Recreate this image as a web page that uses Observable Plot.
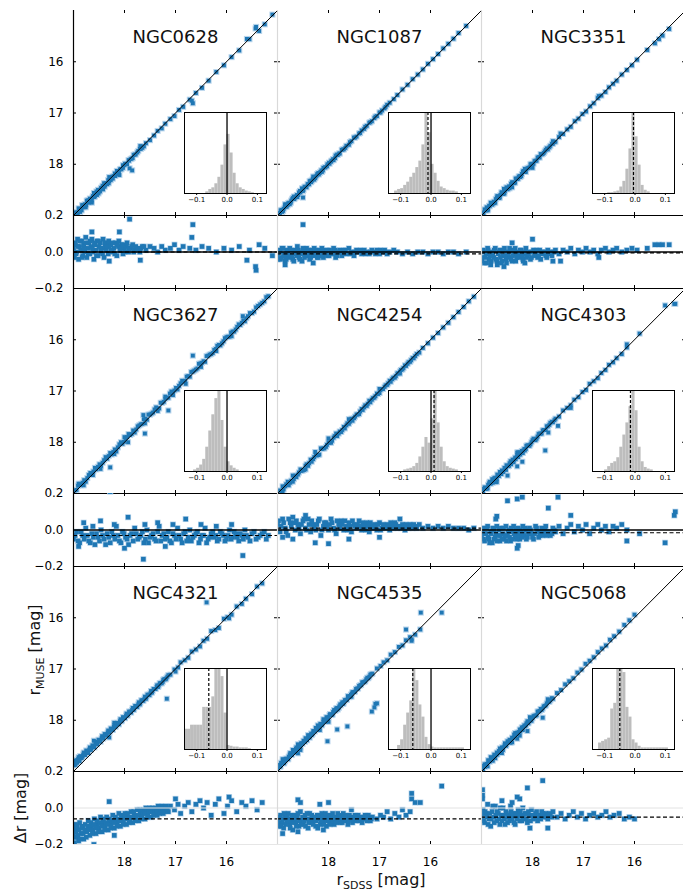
<!DOCTYPE html>
<html><head><meta charset="utf-8">
<script src="https://cdn.jsdelivr.net/npm/d3@7"></script>
<script src="https://cdn.jsdelivr.net/npm/@observablehq/plot@0.6"></script>
<style>
body{margin:0;background:#fff}
#fig{position:relative;width:683px;height:893px;overflow:hidden;font-family:"DejaVu Sans",sans-serif;background:#fff}
</style></head><body><div id="fig"></div>
<script>
// ---------------- DATA ----------------
const galaxies = ["NGC0628","NGC1087","NGC3351","NGC3627","NGC4254","NGC4303","NGC4321","NGC4535","NGC5068"];
const magTicks = [18, 17, 16];
const residTicks = [-0.2, 0, 0.2];
const insetTicks = [-0.1, 0, 0.1];
const oneToOne = [19, 15];
// [r_SDSS, Δr = r_MUSE - r_SDSS]  (sparse stars + outliers)
const NGC0628 = [[19.00,0.02],[18.98,-0.03],[18.96,0.05],[18.94,0.00],[18.92,0.07],[18.90,-0.04],[18.88,0.03],[18.86,0.01],[18.84,0.06],[18.82,-0.02],[18.80,0.04],[18.78,0.00],[18.76,0.08],[18.74,-0.03],[18.72,0.02],[18.70,0.05],[18.68,-0.01],[18.66,0.03],[18.64,0.07],[18.62,0.00],[18.60,-0.04],[18.58,0.04],[18.56,0.01],[18.54,0.06],[18.52,-0.02],[18.50,0.03],[18.48,0.05],[18.46,0.00],[18.44,0.02],[18.42,0.07],[18.40,-0.03],[18.38,0.03],[18.36,0.01],[18.34,0.05],[18.32,-0.01],[18.30,0.03],[18.27,0.04],[18.24,0.00],[18.21,0.02],[18.18,0.05],[18.15,-0.02],[18.12,0.03],[18.09,0.01],[18.06,0.04],[18.03,-0.01],[18.00,0.02],[17.96,0.03],[17.92,0.00],[17.88,0.02],[17.84,0.04],[17.80,0.01],[17.75,0.02],[17.70,0.00],[17.65,0.03],[17.58,0.01],[17.50,0.03],[17.42,0.02],[17.35,0.00],[17.27,0.03],[17.20,0.01],[17.10,0.02],[17.02,0.04],[16.93,0.01],[16.85,0.03],[16.72,0.02],[16.60,0.01],[16.48,0.03],[16.35,0.02],[16.20,0.00],[16.05,0.02],[15.90,0.01],[15.75,0.03],[15.55,0.01],[15.36,0.04],[15.25,0.02],[18.64,0.11],[18.10,0.11],[17.90,0.18],[16.66,0.15],[15.60,-0.045],[15.43,-0.08],[15.10,-0.02],[17.69,-0.045],[17.85,0.27],[16.68,0.08],[15.42,-0.10],[18.30,-0.05]];
const NGC1087 = [[19.00,-0.02],[18.97,0.01],[18.94,-0.04],[18.91,0.02],[18.88,-0.01],[18.85,-0.05],[18.82,0.01],[18.79,-0.03],[18.76,0.02],[18.73,-0.02],[18.70,-0.04],[18.67,0.01],[18.64,-0.01],[18.61,0.03],[18.58,-0.03],[18.55,0.00],[18.52,-0.05],[18.49,0.01],[18.46,-0.02],[18.43,0.02],[18.40,-0.01],[18.37,-0.04],[18.34,0.01],[18.31,-0.02],[18.28,0.02],[18.25,-0.01],[18.22,-0.03],[18.19,0.01],[18.16,-0.01],[18.13,0.02],[18.10,-0.03],[18.06,0.00],[18.02,-0.02],[17.98,0.01],[17.94,-0.01],[17.90,0.02],[17.86,-0.03],[17.82,0.00],[17.78,0.01],[17.74,-0.02],[17.70,0.01],[17.65,-0.01],[17.60,0.02],[17.55,0.00],[17.50,-0.02],[17.45,0.01],[17.40,0.00],[17.35,-0.01],[17.30,0.01],[17.25,0.00],[17.20,-0.01],[17.15,0.01],[17.10,0.00],[17.05,0.01],[17.00,-0.01],[16.95,0.00],[16.90,0.01],[16.85,-0.01],[16.80,0.00],[16.72,0.01],[16.65,0.00],[16.55,-0.01],[16.45,0.00],[16.35,-0.01],[16.25,0.00],[16.15,0.00],[16.05,-0.01],[15.95,0.00],[15.85,0.00],[15.75,-0.01],[15.65,0.00],[15.55,0.00],[15.45,-0.01],[15.30,0.00],[18.50,0.15],[18.85,-0.07],[18.30,-0.06]];
const NGC3351 = [[19.00,-0.03],[18.97,0.01],[18.94,-0.06],[18.91,-0.01],[18.88,0.02],[18.85,-0.04],[18.82,-0.07],[18.79,0.00],[18.76,-0.03],[18.73,0.02],[18.70,-0.05],[18.67,-0.01],[18.64,0.01],[18.61,-0.06],[18.58,-0.02],[18.55,0.02],[18.52,-0.04],[18.49,0.00],[18.46,-0.03],[18.43,0.01],[18.40,-0.05],[18.37,-0.01],[18.34,0.02],[18.31,-0.03],[18.28,0.00],[18.25,-0.02],[18.22,0.01],[18.19,-0.04],[18.16,-0.01],[18.13,0.02],[18.10,-0.02],[18.06,0.00],[18.02,-0.03],[17.98,0.01],[17.94,-0.01],[17.90,-0.03],[17.86,0.01],[17.82,-0.01],[17.78,0.00],[17.74,-0.02],[17.70,0.01],[17.65,-0.01],[17.60,0.00],[17.55,0.01],[17.48,-0.01],[17.40,0.01],[17.32,0.00],[17.25,0.02],[17.17,-0.01],[17.10,0.01],[17.02,0.00],[16.95,0.02],[16.87,0.00],[16.80,0.01],[16.72,-0.01],[16.65,0.01],[16.57,0.02],[16.50,0.00],[16.42,0.01],[16.35,0.02],[16.25,0.00],[16.15,0.01],[16.05,0.02],[15.95,0.01],[15.75,0.02],[15.60,0.04],[15.52,0.04],[15.45,0.04],[15.32,0.04],[18.00,0.07],[18.40,0.05],[18.56,-0.08],[17.45,-0.05],[18.15,-0.06],[17.60,-0.05],[16.70,-0.03]];
const NGC3627 = [[19.00,-0.05],[18.94,-0.01],[18.88,-0.07],[18.82,-0.03],[18.76,0.01],[18.70,-0.06],[18.64,-0.02],[18.58,-0.08],[18.52,-0.04],[18.46,0.00],[18.40,-0.05],[18.34,-0.02],[18.28,-0.07],[18.22,-0.03],[18.16,0.02],[18.10,-0.06],[18.04,-0.01],[17.98,-0.04],[17.92,-0.08],[17.86,-0.02],[17.80,0.01],[17.74,-0.05],[17.68,-0.03],[17.62,-0.07],[17.56,0.00],[17.50,-0.04],[17.44,-0.02],[17.38,-0.06],[17.32,0.02],[17.26,-0.03],[17.20,-0.05],[17.14,-0.01],[17.08,-0.07],[17.02,-0.03],[16.96,0.01],[16.90,-0.05],[16.84,-0.02],[16.78,-0.06],[16.72,0.00],[16.66,-0.04],[16.60,-0.02],[16.54,-0.07],[16.48,-0.03],[16.42,0.01],[16.36,-0.05],[16.30,-0.02],[16.24,-0.04],[16.18,-0.06],[16.12,-0.01],[16.06,-0.03],[16.00,-0.05],[15.94,0.00],[15.88,-0.04],[15.82,-0.02],[15.76,-0.06],[15.70,-0.03],[15.64,0.00],[15.58,-0.04],[15.50,-0.02],[15.42,-0.05],[15.34,-0.03],[15.26,-0.01],[15.18,-0.03],[18.80,0.04],[18.47,0.05],[18.20,0.03],[17.93,0.07],[17.60,0.03],[17.35,0.04],[16.80,0.06],[16.50,0.03],[16.20,0.02],[15.90,0.03],[18.62,0.02],[17.05,0.03],[17.63,-0.16],[15.68,-0.14],[18.90,-0.09],[18.00,-0.10],[17.20,-0.09],[16.66,-0.35],[17.14,0.24],[17.60,0.23],[18.28,0.21]];
const NGC4254 = [[19.00,0.03],[18.95,-0.01],[18.90,0.06],[18.85,0.01],[18.80,-0.03],[18.75,0.04],[18.70,0.07],[18.65,0.00],[18.60,0.03],[18.55,-0.02],[18.50,0.05],[18.45,0.01],[18.40,0.06],[18.35,-0.01],[18.30,0.03],[18.25,0.00],[18.20,0.05],[18.15,-0.03],[18.10,0.02],[18.05,0.04],[18.00,0.00],[17.95,0.06],[17.90,0.01],[17.85,-0.02],[17.80,0.03],[17.75,0.05],[17.70,0.00],[17.65,0.02],[17.60,0.04],[17.55,-0.01],[17.50,0.03],[17.45,0.01],[17.40,0.05],[17.35,0.00],[17.30,0.02],[17.25,0.04],[17.20,-0.01],[17.15,0.02],[17.10,0.03],[17.05,0.00],[17.00,0.04],[16.95,0.01],[16.90,0.02],[16.85,0.03],[16.80,0.00],[16.75,0.02],[16.70,0.04],[16.65,0.01],[16.60,0.02],[16.55,0.03],[16.50,0.00],[16.45,0.02],[16.40,0.03],[16.35,0.01],[16.30,0.02],[16.22,0.03],[16.15,0.01],[16.05,0.02],[15.95,0.01],[15.85,0.02],[15.75,0.01],[15.65,0.02],[15.55,0.01],[15.45,0.01],[15.35,0.01],[15.25,0.00],[15.15,0.01],[18.26,-0.07],[18.00,-0.075],[17.00,-0.04],[18.70,-0.05],[18.90,-0.04],[17.60,-0.05],[16.60,0.06],[18.45,0.08]];
const NGC4303 = [[19.00,-0.03],[18.97,0.01],[18.94,-0.06],[18.91,-0.02],[18.88,0.02],[18.85,-0.05],[18.82,-0.01],[18.79,-0.07],[18.76,0.00],[18.73,-0.04],[18.70,0.02],[18.67,-0.03],[18.64,-0.06],[18.61,0.01],[18.58,-0.02],[18.55,-0.05],[18.52,0.02],[18.49,-0.03],[18.46,0.00],[18.43,-0.06],[18.40,-0.01],[18.37,0.02],[18.34,-0.04],[18.31,-0.02],[18.28,0.01],[18.25,-0.05],[18.22,-0.01],[18.19,0.02],[18.16,-0.03],[18.13,0.00],[18.10,-0.04],[18.06,0.01],[18.02,-0.02],[17.98,-0.05],[17.94,0.02],[17.90,-0.01],[17.86,-0.03],[17.82,0.01],[17.78,-0.02],[17.74,0.02],[17.70,-0.01],[17.65,-0.03],[17.60,0.01],[17.55,-0.01],[17.48,0.02],[17.40,-0.02],[17.32,0.01],[17.25,0.03],[17.18,-0.01],[17.10,0.02],[17.02,0.00],[16.95,0.03],[16.88,-0.02],[16.80,0.01],[16.72,0.03],[16.65,0.00],[16.57,0.02],[16.50,-0.01],[16.42,0.02],[16.35,0.01],[16.25,0.03],[16.15,0.00],[18.70,0.075],[18.72,0.06],[18.20,0.18],[17.50,0.18],[17.25,0.08],[18.30,-0.10],[18.28,-0.085],[16.15,-0.06],[15.40,-0.07],[15.20,0.10],[15.22,0.08],[15.90,-0.02],[17.69,0.12],[17.75,0.41],[18.30,0.17],[18.49,0.16]];
const NGC4321 = [[19.00,-0.14],[18.98,-0.19],[18.96,-0.09],[18.94,-0.16],[18.92,-0.12],[18.90,-0.18],[18.88,-0.08],[18.85,-0.14],[18.82,-0.11],[18.80,-0.17],[18.77,-0.09],[18.74,-0.13],[18.71,-0.07],[18.68,-0.15],[18.65,-0.10],[18.62,-0.12],[18.59,-0.06],[18.56,-0.14],[18.53,-0.09],[18.50,-0.11],[18.47,-0.05],[18.44,-0.13],[18.41,-0.08],[18.38,-0.10],[18.35,-0.05],[18.32,-0.12],[18.29,-0.07],[18.26,-0.09],[18.23,-0.04],[18.20,-0.11],[18.17,-0.06],[18.14,-0.08],[18.11,-0.03],[18.08,-0.10],[18.05,-0.05],[18.02,-0.07],[17.99,-0.03],[17.96,-0.09],[17.93,-0.05],[17.90,-0.06],[17.87,-0.02],[17.84,-0.08],[17.81,-0.04],[17.78,-0.05],[17.75,-0.01],[17.72,-0.07],[17.69,-0.03],[17.66,-0.04],[17.63,-0.01],[17.60,-0.06],[17.57,-0.02],[17.54,-0.03],[17.51,0.00],[17.48,-0.05],[17.45,-0.02],[17.42,-0.03],[17.39,0.00],[17.36,-0.04],[17.33,-0.01],[17.30,-0.02],[17.27,0.01],[17.24,-0.03],[17.21,-0.01],[17.18,0.00],[17.14,-0.02],[17.10,0.01],[17.02,-0.01],[16.95,0.02],[16.90,-0.03],[16.82,0.01],[16.75,0.03],[16.68,-0.02],[16.60,0.02],[16.52,0.04],[16.45,0.00],[16.38,0.03],[16.30,-0.04],[16.22,0.02],[16.15,0.05],[16.05,-0.03],[15.98,0.01],[15.90,0.04],[15.80,-0.02],[15.70,0.03],[15.62,0.01],[15.50,0.04],[15.40,-0.01],[15.30,0.03],[18.30,0.035],[17.00,0.05],[15.95,0.06],[18.60,-0.20],[18.20,-0.15],[16.39,-0.69],[17.17,0.41]];
const NGC4535 = [[19.00,-0.06],[18.97,-0.10],[18.94,-0.04],[18.91,-0.08],[18.88,-0.11],[18.85,-0.05],[18.82,-0.07],[18.79,-0.03],[18.76,-0.09],[18.73,-0.06],[18.70,-0.12],[18.67,-0.04],[18.64,-0.08],[18.61,-0.05],[18.58,-0.10],[18.55,-0.02],[18.52,-0.07],[18.49,-0.09],[18.46,-0.04],[18.43,-0.06],[18.40,-0.11],[18.37,-0.03],[18.34,-0.08],[18.31,-0.05],[18.28,-0.07],[18.25,-0.10],[18.22,-0.04],[18.19,-0.06],[18.16,-0.09],[18.13,-0.03],[18.10,-0.07],[18.07,-0.05],[18.04,-0.10],[18.01,-0.04],[17.98,-0.08],[17.95,-0.06],[17.92,-0.03],[17.89,-0.09],[17.86,-0.05],[17.83,-0.07],[17.80,-0.04],[17.77,-0.08],[17.74,-0.06],[17.71,-0.03],[17.68,-0.07],[17.65,-0.05],[17.62,-0.09],[17.59,-0.04],[17.56,-0.06],[17.53,-0.08],[17.50,-0.05],[17.46,-0.07],[17.42,-0.04],[17.38,-0.06],[17.34,-0.08],[17.30,-0.05],[17.26,-0.06],[17.22,-0.04],[17.18,-0.07],[17.14,-0.05],[17.05,-0.06],[16.98,-0.04],[16.92,-0.05],[16.85,-0.02],[16.78,-0.06],[16.70,-0.03],[16.62,-0.05],[16.55,-0.01],[16.48,-0.04],[16.40,-0.02],[18.60,0.045],[18.55,0.03],[18.17,0.02],[18.00,0.03],[17.55,-0.01],[16.37,0.08],[16.30,0.03],[16.20,0.03],[18.90,-0.14],[18.10,-0.12],[18.60,-0.13],[17.10,0.65],[17.05,0.62],[17.15,0.68],[17.08,0.60],[17.83,0.35],[17.63,0.49],[18.02,0.39],[16.48,-0.25],[16.19,-0.29],[15.78,0.12],[16.37,0.05]];
const NGC5068 = [[19.00,-0.05],[18.97,-0.01],[18.94,-0.08],[18.91,-0.03],[18.88,0.02],[18.85,-0.06],[18.82,-0.10],[18.79,-0.02],[18.76,-0.05],[18.73,0.01],[18.70,-0.07],[18.67,-0.03],[18.64,-0.09],[18.61,-0.04],[18.58,0.00],[18.55,-0.06],[18.52,-0.02],[18.49,-0.08],[18.46,-0.04],[18.43,0.01],[18.40,-0.06],[18.37,-0.03],[18.34,-0.09],[18.31,-0.05],[18.28,-0.01],[18.25,-0.07],[18.22,-0.04],[18.19,0.00],[18.16,-0.06],[18.13,-0.03],[18.10,-0.08],[18.06,-0.04],[18.02,-0.01],[17.98,-0.06],[17.94,-0.03],[17.90,-0.07],[17.86,-0.04],[17.82,-0.02],[17.78,-0.05],[17.74,-0.03],[17.70,-0.06],[17.65,-0.04],[17.60,-0.02],[17.52,-0.05],[17.44,-0.03],[17.36,-0.06],[17.28,-0.04],[17.20,-0.02],[17.12,-0.05],[17.04,-0.03],[16.96,-0.06],[16.88,-0.04],[16.80,-0.03],[16.72,-0.05],[16.64,-0.04],[16.56,-0.02],[16.48,-0.05],[16.40,-0.04],[16.30,-0.03],[16.20,-0.06],[16.10,-0.05],[16.00,-0.06],[17.80,0.15],[18.10,0.11],[18.30,0.06],[18.25,0.05],[18.98,0.10],[18.98,0.07],[18.98,0.05],[18.05,-0.11],[17.70,-0.11],[18.60,0.04],[18.40,0.03]];
// additional stars in the dense faint-end band
const NGC0628_b = [[18.99,0.04],[18.95,-0.01],[18.91,0.03],[18.87,0.06],[18.83,-0.03],[18.79,0.02],[18.75,0.05],[18.71,-0.01],[18.67,0.06],[18.63,0.02],[18.59,0.05],[18.55,-0.02],[18.51,0.06],[18.47,0.02],[18.43,-0.01],[18.39,0.05],[18.35,0.03],[18.31,0.06],[18.27,0.01],[18.23,0.05],[18.19,-0.01],[18.15,0.04],[18.11,0.06],[18.07,0.02],[18.03,0.04],[17.99,0.00],[17.95,0.05],[17.91,0.02],[17.86,0.03],[17.82,0.00],[17.78,0.03],[17.73,0.01],[17.68,0.02],[17.62,0.03]];
const NGC1087_b = [[18.99,-0.04],[18.95,0.00],[18.92,-0.03],[18.89,0.02],[18.86,-0.02],[18.83,-0.04],[18.80,0.00],[18.77,-0.02],[18.74,0.01],[18.71,-0.03],[18.68,-0.05],[18.65,0.00],[18.62,-0.02],[18.59,0.01],[18.56,-0.04],[18.53,-0.01],[18.50,0.02],[18.47,-0.03],[18.44,0.00],[18.41,-0.02],[18.38,0.01],[18.35,-0.03],[18.32,0.00],[18.29,-0.02],[18.26,0.01],[18.23,-0.01],[18.20,-0.03],[18.17,0.00],[18.14,-0.02],[18.11,0.01],[18.07,-0.01],[18.03,0.01],[17.99,-0.02],[17.95,0.00],[17.91,-0.01],[17.87,0.01],[17.83,-0.02],[17.79,0.00],[17.72,-0.01],[17.67,0.01],[17.58,-0.01],[17.48,0.00],[17.38,0.01],[17.28,-0.01],[17.18,0.00],[17.08,-0.01],[16.98,0.01],[16.88,0.00]];
const NGC3351_b = [[18.99,-0.05],[18.96,0.00],[18.93,-0.03],[18.90,-0.06],[18.87,0.01],[18.84,-0.02],[18.81,-0.05],[18.78,-0.01],[18.75,0.01],[18.72,-0.04],[18.69,-0.07],[18.66,0.00],[18.63,-0.03],[18.60,-0.05],[18.57,0.01],[18.54,-0.02],[18.51,-0.06],[18.48,-0.01],[18.45,0.02],[18.42,-0.04],[18.39,-0.02],[18.36,0.01],[18.33,-0.05],[18.30,-0.01],[18.27,-0.03],[18.24,0.01],[18.21,-0.02],[18.18,-0.05],[18.15,0.00],[18.12,-0.03],[18.08,-0.01],[18.04,-0.04],[18.00,0.00],[17.96,-0.02],[17.92,0.01],[17.88,-0.02],[17.84,-0.04],[17.80,0.00],[17.76,-0.01],[17.72,-0.03],[17.67,0.00],[17.62,-0.02],[17.57,0.00]];
const NGC3627_b = [[18.97,-0.03],[18.91,-0.06],[18.85,-0.01],[18.79,-0.05],[18.73,-0.03],[18.67,-0.07],[18.61,-0.04],[18.55,-0.02],[18.49,-0.06],[18.43,-0.03],[18.37,-0.08],[18.31,-0.04],[18.25,-0.01],[18.19,-0.05],[18.13,-0.03],[18.07,-0.07],[18.01,-0.02],[17.95,-0.05],[17.89,-0.03],[17.83,-0.06],[17.77,-0.02],[17.71,-0.04],[17.65,-0.01],[17.59,-0.05],[17.53,-0.07],[17.47,-0.03],[17.41,-0.05],[17.35,-0.01],[17.29,-0.06],[17.23,-0.02],[17.17,-0.04],[17.11,-0.06],[17.05,-0.02],[16.99,-0.05],[16.93,-0.03],[16.87,-0.07],[16.81,-0.01],[16.75,-0.04],[16.69,-0.06],[16.63,-0.03],[16.57,-0.01],[16.51,-0.05],[16.45,-0.03],[16.39,-0.07],[16.33,-0.04],[16.27,-0.01],[16.21,-0.03],[16.15,-0.05],[16.09,-0.02],[16.03,-0.06],[15.97,-0.03],[15.91,-0.05],[15.85,-0.01],[15.79,-0.04],[15.73,-0.02],[15.67,-0.05],[15.61,-0.03],[15.54,-0.06],[15.46,-0.01],[15.38,-0.04],[15.30,-0.02],[15.22,-0.05]];
const NGC4254_b = [[18.98,0.05],[18.93,0.02],[18.88,0.04],[18.83,-0.01],[18.78,0.06],[18.73,0.02],[18.68,0.04],[18.63,0.05],[18.58,0.01],[18.53,0.03],[18.48,0.06],[18.43,0.00],[18.38,0.03],[18.33,0.05],[18.28,0.01],[18.23,0.03],[18.18,0.06],[18.13,0.00],[18.08,0.04],[18.03,0.02],[17.98,0.03],[17.93,0.04],[17.88,0.00],[17.83,0.05],[17.78,0.01],[17.73,0.03],[17.68,0.05],[17.63,0.00],[17.58,0.02],[17.53,0.05],[17.48,0.02],[17.43,0.03],[17.38,0.02],[17.33,0.04],[17.28,0.00],[17.23,0.02],[17.18,0.04],[17.13,0.01],[17.08,0.02],[17.03,0.03],[16.98,0.00],[16.93,0.03],[16.88,0.01],[16.83,0.02],[16.78,0.04],[16.73,0.01],[16.68,0.03],[16.63,0.02],[16.58,0.01],[16.53,0.02],[16.48,0.03],[16.43,0.01],[16.38,0.02],[16.33,0.03],[16.27,0.01]];
const NGC4303_b = [[18.99,-0.01],[18.96,-0.05],[18.93,-0.02],[18.90,0.01],[18.87,-0.04],[18.84,-0.07],[18.81,-0.02],[18.78,0.01],[18.75,-0.05],[18.72,-0.02],[18.69,-0.06],[18.66,0.00],[18.63,-0.03],[18.60,-0.05],[18.57,0.01],[18.54,-0.03],[18.51,-0.06],[18.48,-0.01],[18.45,-0.04],[18.42,0.01],[18.39,-0.05],[18.36,-0.02],[18.33,0.00],[18.30,-0.05],[18.27,-0.03],[18.24,0.00],[18.21,-0.04],[18.18,-0.02],[18.15,0.01],[18.12,-0.05],[18.08,-0.02],[18.04,0.00],[18.00,-0.04],[17.96,-0.02],[17.92,0.01],[17.88,-0.04],[17.84,-0.01],[17.80,-0.03],[17.76,0.00],[17.72,-0.03],[17.67,-0.01],[17.62,-0.02],[17.57,0.00]];
const NGC4321_b = [[18.99,-0.11],[18.97,-0.16],[18.95,-0.13],[18.93,-0.10],[18.91,-0.15],[18.89,-0.12],[18.87,-0.17],[18.84,-0.10],[18.81,-0.14],[18.78,-0.12],[18.75,-0.16],[18.72,-0.10],[18.69,-0.12],[18.66,-0.08],[18.63,-0.14],[18.60,-0.09],[18.57,-0.11],[18.54,-0.07],[18.51,-0.13],[18.48,-0.08],[18.45,-0.10],[18.42,-0.06],[18.39,-0.12],[18.36,-0.08],[18.33,-0.09],[18.30,-0.06],[18.27,-0.11],[18.24,-0.07],[18.21,-0.08],[18.18,-0.05],[18.15,-0.10],[18.12,-0.06],[18.09,-0.07],[18.06,-0.04],[18.03,-0.09],[18.00,-0.05],[17.97,-0.06],[17.94,-0.03],[17.91,-0.08],[17.88,-0.05],[17.85,-0.05],[17.82,-0.02],[17.79,-0.07],[17.76,-0.04],[17.73,-0.04],[17.70,-0.01],[17.67,-0.06],[17.64,-0.03],[17.61,-0.03],[17.58,0.00],[17.55,-0.05],[17.52,-0.02],[17.49,-0.02],[17.46,0.00],[17.43,-0.04],[17.40,-0.01],[17.37,-0.02],[17.34,0.01],[17.31,-0.03],[17.28,-0.01],[17.25,0.00],[17.22,-0.02],[17.19,0.01],[17.16,-0.01]];
const NGC4535_b = [[18.99,-0.08],[18.96,-0.05],[18.93,-0.10],[18.90,-0.06],[18.87,-0.03],[18.84,-0.09],[18.81,-0.05],[18.78,-0.07],[18.75,-0.11],[18.72,-0.04],[18.69,-0.08],[18.66,-0.06],[18.63,-0.10],[18.60,-0.03],[18.57,-0.07],[18.54,-0.09],[18.51,-0.05],[18.48,-0.07],[18.45,-0.10],[18.42,-0.03],[18.39,-0.08],[18.36,-0.06],[18.33,-0.04],[18.30,-0.09],[18.27,-0.05],[18.24,-0.07],[18.21,-0.11],[18.18,-0.04],[18.15,-0.07],[18.12,-0.05],[18.09,-0.09],[18.06,-0.03],[18.03,-0.07],[18.00,-0.06],[17.97,-0.09],[17.94,-0.04],[17.91,-0.07],[17.88,-0.06],[17.85,-0.08],[17.82,-0.03],[17.79,-0.06],[17.76,-0.05],[17.73,-0.08],[17.70,-0.05],[17.67,-0.06],[17.64,-0.04],[17.61,-0.07],[17.58,-0.05],[17.54,-0.06],[17.48,-0.04],[17.44,-0.06],[17.40,-0.07],[17.36,-0.05],[17.32,-0.06],[17.28,-0.04],[17.24,-0.07],[17.20,-0.05],[17.16,-0.06]];
const NGC5068_b = [[18.99,-0.03],[18.96,-0.07],[18.93,-0.02],[18.90,-0.05],[18.87,-0.09],[18.84,-0.03],[18.81,-0.06],[18.78,0.01],[18.75,-0.08],[18.72,-0.04],[18.69,-0.02],[18.66,-0.06],[18.63,0.00],[18.60,-0.07],[18.57,-0.04],[18.54,-0.09],[18.51,-0.03],[18.48,-0.05],[18.45,-0.07],[18.42,-0.02],[18.39,-0.04],[18.36,-0.08],[18.33,-0.03],[18.30,-0.06],[18.27,-0.04],[18.24,-0.02],[18.21,-0.07],[18.18,-0.05],[18.15,-0.03],[18.12,-0.06],[18.08,-0.02],[18.04,-0.07],[18.00,-0.04],[17.96,-0.05],[17.92,-0.02],[17.88,-0.05],[17.84,-0.06],[17.80,-0.03],[17.76,-0.04],[17.72,-0.05],[17.67,-0.03],[17.62,-0.05]];
const galaxyPoints = [NGC0628.concat(NGC0628_b), NGC1087.concat(NGC1087_b), NGC3351.concat(NGC3351_b), NGC3627.concat(NGC3627_b), NGC4254.concat(NGC4254_b), NGC4303.concat(NGC4303_b), NGC4321.concat(NGC4321_b), NGC4535.concat(NGC4535_b), NGC5068.concat(NGC5068_b)];
const medianOffset = [0.00, -0.01, -0.005, -0.03, 0.01, -0.015, -0.06, -0.06, -0.05];
// histogram bins (lower edges, width 0.01) and relative counts
const binLo = [-0.14,-0.13,-0.12,-0.11,-0.10,-0.09,-0.08,-0.07,-0.06,-0.05,-0.04,-0.03,-0.02,-0.01,0.00,0.01,0.02,0.03,0.04,0.05,0.06,0.07,0.08,0.09,0.10,0.11,0.12];
const hist_NGC0628 = [0,0,0,0,0,0,0,0.02,0.05,0.07,0.12,0.2,0.35,0.6,0.73,0.5,0.25,0.12,0.07,0.05,0.03,0.02,0.01,0,0,0,0];
const hist_NGC1087 = [0,0,0.03,0.05,0.06,0.1,0.14,0.2,0.25,0.32,0.4,0.6,1.0,0.75,0.36,0.25,0.15,0.08,0.06,0.04,0.03,0.03,0.02,0,0,0,0];
const hist_NGC3351 = [0,0,0,0,0,0.01,0.01,0.02,0.03,0.08,0.15,0.3,0.55,1.0,0.7,0.35,0.1,0.04,0.02,0,0,0,0,0,0,0,0];
const hist_NGC3627 = [0,0,0,0.02,0.04,0.08,0.15,0.3,0.5,0.7,0.9,1.0,0.63,0.3,0.12,0.07,0.04,0.02,0,0,0,0,0,0,0,0,0];
const hist_NGC4254 = [0,0,0,0,0,0.02,0.03,0.04,0.06,0.1,0.18,0.3,0.42,0.35,0.65,1.0,0.6,0.3,0.12,0.06,0.04,0.03,0.02,0,0,0,0];
const hist_NGC4303 = [0,0,0,0,0.02,0.06,0.1,0.12,0.17,0.3,0.45,0.6,0.8,1.0,0.75,0.3,0.12,0.05,0.03,0.02,0,0,0,0,0,0,0];
const hist_NGC4321 = [0.25,0.25,0.3,0.3,0.3,0.3,0.52,0.52,0.52,0.65,1.0,1.0,0.9,0.45,0.05,0.04,0.03,0.03,0.02,0.02,0.02,0.01,0,0,0,0,0];
const hist_NGC4535 = [0,0,0,0.05,0.12,0.3,0.45,0.6,1.0,0.85,0.55,0.4,0.15,0.06,0.03,0.02,0.02,0.02,0.02,0.02,0.02,0.02,0.02,0.02,0.02,0,0];
const hist_NGC5068 = [0,0,0.08,0.1,0.12,0.14,0.5,0.57,1.0,1.0,0.95,0.52,0.4,0.12,0.08,0.04,0.02,0.02,0.02,0.02,0.02,0.02,0.02,0.02,0.02,0,0];
const galaxyHists = [hist_NGC0628, hist_NGC1087, hist_NGC3351, hist_NGC3627, hist_NGC4254, hist_NGC4303, hist_NGC4321, hist_NGC4535, hist_NGC5068];
const insetZeroLine = new Set(["NGC0628","NGC1087","NGC3627","NGC4254","NGC4321","NGC4535"]);
const insetMedianLine = new Set(["NGC1087","NGC3351","NGC4254","NGC4303","NGC4321","NGC4535","NGC5068"]);

// ---------------- LAYOUT ----------------
const colLeft = [73, 277, 481], W = 204;
const rowTop = [10, 288, 566], MH = 205, RH = 73;
const BLUE = "#1f77b4", HALO = "#b9d5ec";
const fig = document.getElementById("fig");
function place(el, left, top) {
  el.style.position = "absolute"; el.style.left = left + "px"; el.style.top = top + "px";
  fig.appendChild(el);
}
const baseStyle = {background: "transparent", overflow: "visible", fontFamily: "DejaVu Sans, sans-serif", fontSize: "12px", color: "#000"};
const fmtSigned = d => d === 0 ? "0.0" : (d < 0 ? "\u2212" : "") + Math.abs(d).toFixed(1);

galaxies.forEach((name, g) => {
  const row = Math.floor(g / 3), col = g % 3;
  const left = colLeft[col], top = rowTop[row];
  const pts = galaxyPoints[g].map(([s, dr]) => ({sdss: s, dr: dr, muse: s + dr}));
  const spineLeft = col === 0 ? "#000" : "#d9d9d9";

  // main scatter panel
  const mainMarks = [
    Plot.dot(pts, {x: "sdss", y: "muse", r: 3.4, fill: HALO, symbol: "square", clip: true}),
    Plot.dot(pts, {x: "sdss", y: "muse", r: 2.2, fill: BLUE, symbol: "square", clip: true}),
    Plot.line(oneToOne, {x: d => d, y: d => d, stroke: "#000", strokeWidth: 1}),
    Plot.tickX(magTicks, {x: d => d, insetBottom: MH - 3, stroke: "#000"}),
    Plot.tickX(magTicks, {x: d => d, insetTop: MH - 3, stroke: "#000"}),
    Plot.tickY(magTicks, {y: d => d, insetRight: W - 3, stroke: "#000"}),
    Plot.tickY(magTicks, {y: d => d, insetLeft: W - 3, stroke: "#000"}),
    Plot.ruleX([19], {stroke: spineLeft, strokeWidth: 1.2}),
    Plot.ruleY([19], {stroke: "#000", strokeWidth: 1.2}),
    Plot.text([name], {text: d => d, frameAnchor: "top", dy: 20, fontSize: 18, fill: "#111"})
  ];
  if (row > 0) mainMarks.push(Plot.ruleY([15], {stroke: "#000", strokeWidth: 1.2}));
  if (col === 0) mainMarks.push(Plot.axisY({ticks: magTicks, anchor: "left", tickSize: 0, tickPadding: 10, label: null, tickFormat: d => String(d)}));
  place(Plot.plot({
    width: W, height: MH, margin: 0,
    x: {domain: [19, 15], axis: null},
    y: {domain: [19, 15], axis: null},
    style: baseStyle,
    marks: mainMarks
  }), left, top);

  // residual panel
  const resMarks = [
    Plot.dot(pts, {x: "sdss", y: "dr", r: 3.4, fill: HALO, symbol: "square", clip: true}),
    Plot.dot(pts, {x: "sdss", y: "dr", r: 2.6, fill: BLUE, symbol: "square", clip: true}),
    Plot.ruleY([0], {stroke: row < 2 ? "#000" : "#e2e2e2", strokeWidth: row < 2 ? 1.3 : 1}),
    Plot.ruleY([medianOffset[g]], {stroke: "#000", strokeWidth: 1.2, strokeDasharray: "4,2.5"}),
    Plot.tickX(magTicks, {x: d => d, insetBottom: RH - 3, stroke: "#000"}),
    Plot.tickX(magTicks, {x: d => d, insetTop: RH - 3, stroke: "#000"}),
    Plot.ruleX([19], {stroke: spineLeft, strokeWidth: 1.2}),
    Plot.ruleY([-0.2], {stroke: row < 2 ? "#000" : "#e6e6e6", strokeWidth: 1.2})
  ];
  if (col === 0) resMarks.push(Plot.axisY({ticks: residTicks, anchor: "left", tickSize: 0, tickPadding: 10, label: null, tickFormat: fmtSigned}));
  if (row === 2) resMarks.push(Plot.axisX({ticks: magTicks, anchor: "bottom", tickSize: 0, tickPadding: 13, label: null, tickFormat: d => String(d)}));
  place(Plot.plot({
    width: W, height: RH, margin: 0,
    x: {domain: [19, 15], axis: null},
    y: {domain: [-0.2, 0.2], axis: null},
    style: baseStyle,
    marks: resMarks
  }), left, top + MH);

  // inset histogram
  const bins = binLo.map((lo, i) => ({lo: lo, hi: lo + 0.01, h: galaxyHists[g][i]}));
  const IW = 82, IH = 81;
  const insetMarks = [
    Plot.rectY(bins, {x1: "lo", x2: "hi", y: "h", fill: "#bdbdbd"}),
    Plot.frame({stroke: "#000", strokeWidth: 1})
  ];
  if (insetZeroLine.has(name)) insetMarks.push(Plot.ruleX([0], {stroke: "#000", strokeWidth: 1.3}));
  if (insetMedianLine.has(name)) insetMarks.push(Plot.ruleX([medianOffset[g]], {stroke: "#000", strokeWidth: 1.2, strokeDasharray: "3,2"}));
  insetMarks.push(Plot.axisX({ticks: insetTicks, anchor: "bottom", tickSize: 2, tickPadding: 2, label: null, tickFormat: fmtSigned}));
  place(Plot.plot({
    width: IW, height: IH, margin: 0,
    x: {domain: [-0.14, 0.13], axis: null},
    y: {domain: [0, 1], axis: null},
    style: {...baseStyle, background: "#fff", fontSize: "7px"},
    marks: insetMarks
  }), left + 111, top + 102);
});

// ---------------- AXIS TITLES ----------------
const ann = d3.create("svg").attr("width", 683).attr("height", 893)
  .style("position", "absolute").style("left", "0px").style("top", "0px")
  .style("pointer-events", "none").style("font-family", "DejaVu Sans, sans-serif");
const xt = ann.append("text").attr("x", 381).attr("y", 885).attr("text-anchor", "middle").attr("font-size", 16).attr("fill", "#111");
xt.append("tspan").text("r");
xt.append("tspan").attr("font-size", 11).attr("dy", 4).text("SDSS");
xt.append("tspan").attr("dy", -4).text(" [mag]");
const yt = ann.append("text").attr("transform", "translate(40,650) rotate(-90)").attr("text-anchor", "middle").attr("font-size", 16).attr("fill", "#111");
yt.append("tspan").text("r");
yt.append("tspan").attr("font-size", 11).attr("dy", 4).text("MUSE");
yt.append("tspan").attr("dy", -4).text(" [mag]");
ann.append("text").attr("transform", "translate(26,808) rotate(-90)").attr("text-anchor", "middle").attr("font-size", 16).attr("fill", "#111").text("\u0394r [mag]");
fig.appendChild(ann.node());
</script></body></html>
